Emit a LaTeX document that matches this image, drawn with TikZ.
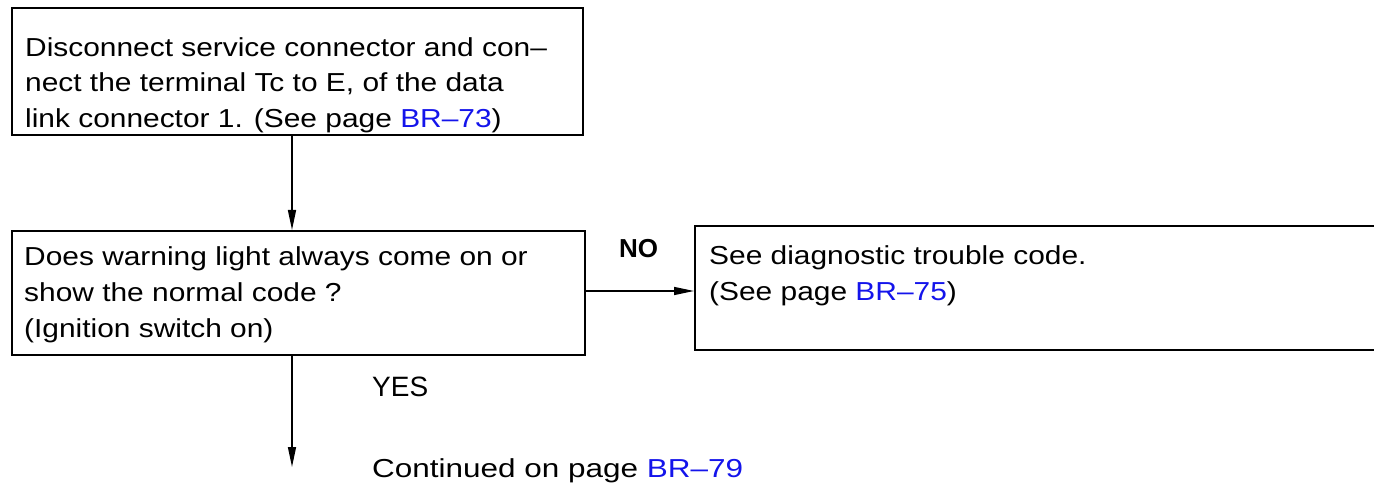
\documentclass[tikz,border=0pt]{standalone}
\usepackage{fontspec}
\setmainfont{Liberation Sans}
\newfontfamily\bodyfont{Liberation Sans}[FakeStretch=1.15]
\newfontfamily\contfont{Liberation Sans}[FakeStretch=1.21]
\usetikzlibrary{arrows.meta}
\definecolor{link}{RGB}{20,20,235}
\newcommand{\lnk}[1]{\textcolor{link}{#1}}
\begin{document}
\begin{tikzpicture}[x=1pt,y=-1pt,
  box/.style={draw=black,line width=2pt,rectangle,inner sep=0pt,anchor=north west},
  txt/.style={anchor=north west,inner sep=0pt,align=left,font=\bodyfont\fontsize{26}{36}\selectfont},
  arr/.style={line width=1.5pt,-{Triangle[length=20pt,width=8pt]}}]
\useasboundingbox (0,0) rectangle (1374,494);
\node[box,minimum width=571pt,minimum height=127pt] (b1) at (11,7) {};
\node[box,minimum width=573pt,minimum height=124pt] (b2) at (11,230) {};
\node[box,minimum width=700pt,minimum height=124pt] (b3) at (694,225) {};
% strut height = 0.7*35.5 = 24.85
\node[txt,font=\bodyfont\fontsize{26}{35.5}\selectfont] (t1) at (25,31.15) {\strut Disconnect service connector and con\textendash\\nect the terminal Tc to E, of the data\\link connector 1. (See page \lnk{BR\textendash73})};
\node[txt] (t2) at (24,239.8) {\strut Does warning light always come on or\\show the normal code ?\\(Ignition switch on)};
\node[txt] (t3) at (709,238.8) {\strut See diagnostic trouble code.\\(See page \lnk{BR\textendash75})};
\node[anchor=base west,inner sep=0pt,font=\fontsize{26}{30}\selectfont\bfseries] (no) at (619,258) {NO};
\node[anchor=base west,inner sep=0pt,font=\fontsize{28}{30}\selectfont] (yes) at (372,396) {YES};
\node[anchor=base west,inner sep=0pt,font=\contfont\fontsize{26}{30}\selectfont] (cont) at (372,477) {Continued on page \lnk{BR\textendash79}};
\coordinate (ax) at (292,0);
\coordinate (ay) at (0,291);
\coordinate (yesend) at (292,467);
\draw[arr] (b1.south -| ax) -- (b2.north -| ax);
\draw[arr] (b2.east |- ay) -- (b3.west |- ay);
\draw[arr] (b2.south -| ax) -- (yesend);
\end{tikzpicture}
\end{document}
